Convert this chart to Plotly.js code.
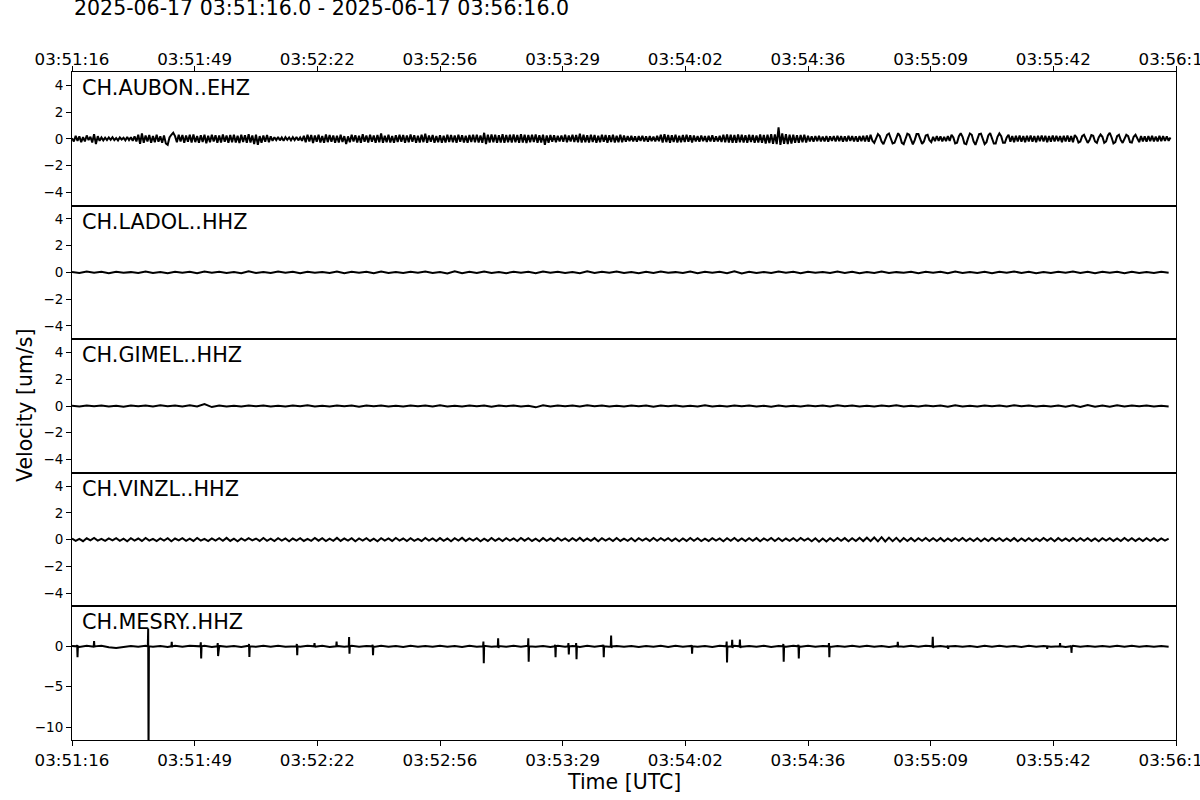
<!DOCTYPE html>
<html><head><meta charset="utf-8">
<script src="https://cdn.plot.ly/plotly-3.0.1.min.js"></script>
<style>html,body{margin:0;padding:0;background:#fff}#plot{width:1200px;height:800px}</style>
</head><body><div id="plot"></div>
<script>
const titleText = "2025-06-17 03:51:16.0 - 2025-06-17 03:56:16.0";
const stations = ["CH.AUBON..EHZ","CH.LADOL..HHZ","CH.GIMEL..HHZ","CH.VINZL..HHZ","CH.MESRY..HHZ"];
const durationSec = 300;
const tickLabels = ["03:51:16","03:51:49","03:52:22","03:52:56","03:53:29","03:54:02","03:54:36","03:55:09","03:55:42","03:56:16"];
const yTicksSmall = [-4,-2,0,2,4];
const yTicksMesry = [-10,-5,0];
const yRanges = [[-5,5],[-5,5],[-5,5],[-5,5],[-11.6,4.95]];

// sample interval (s) of each listed series
const aubonDt = 0.5, ladolDt = 2, gimelDt = 2, vinzlDt = 1, mesryDt = 2;

const aubon = [
0.05,-0.2,0.22,-0.15,0.18,-0.25,0.12,-0.2,0.25,-0.1,0.15,-0.28,0.35,-0.4,0.2,-0.15,0.1,-0.12,0.08,-0.1,
0.1,-0.08,0.12,-0.1,0.06,-0.12,0.1,-0.05,0.08,-0.12,0.14,-0.1,0.12,-0.15,0.18,-0.2,0.3,-0.38,0.4,-0.3,
0.25,-0.2,0.28,-0.3,0.2,-0.25,0.3,-0.22,0.18,-0.3,0.25,-0.35,-0.45,0.1,0.3,0.45,0.2,-0.25,0.3,-0.2,
0.28,-0.3,0.25,-0.22,0.3,-0.28,0.32,-0.25,0.2,-0.3,0.26,-0.24,0.3,-0.33,0.22,-0.26,0.3,-0.2,0.27,-0.3,
0.25,-0.28,0.32,-0.22,0.24,-0.3,0.28,-0.25,0.3,-0.27,0.22,-0.32,0.3,-0.24,0.26,-0.3,0.35,-0.28,0.25,-0.4,
0.3,-0.45,0.2,-0.3,0.25,-0.22,0.28,-0.26,0.18,-0.15,0.12,-0.1,0.14,-0.12,0.1,-0.14,0.12,-0.08,0.1,-0.12,
0.12,-0.1,0.14,-0.12,0.1,-0.15,0.22,-0.25,0.3,-0.2,0.28,-0.32,0.25,-0.22,0.3,-0.28,0.2,-0.3,0.32,-0.25,
0.28,-0.22,0.25,-0.3,0.22,-0.28,0.3,-0.24,0.2,-0.4,0.18,-0.25,0.3,-0.2,0.26,-0.28,0.22,-0.3,0.34,-0.22,
0.25,-0.28,0.3,-0.22,0.24,-0.3,0.28,-0.26,0.4,-0.3,0.22,-0.25,0.3,-0.28,0.2,-0.3,0.26,-0.24,0.3,-0.22,
0.28,-0.3,0.24,-0.26,0.32,-0.22,0.26,-0.3,0.22,-0.28,0.3,-0.25,0.38,-0.3,0.25,-0.22,0.28,-0.3,0.2,-0.26,
0.26,-0.3,0.22,-0.28,0.3,-0.24,0.28,-0.26,0.24,-0.3,0.3,-0.22,0.26,-0.28,0.22,-0.3,0.28,-0.24,0.3,-0.26,
0.3,-0.28,0.25,-0.3,0.45,-0.4,0.3,-0.28,0.32,-0.26,0.3,-0.3,0.26,-0.28,0.34,-0.3,0.28,-0.25,0.3,-0.28,
0.32,-0.26,0.28,-0.3,0.35,-0.28,0.3,-0.32,0.28,-0.26,0.3,-0.24,0.32,-0.3,0.26,-0.28,0.3,-0.45,0.25,-0.3,
0.28,-0.22,0.26,-0.25,0.22,-0.2,0.25,-0.22,0.3,-0.25,0.24,-0.2,0.3,-0.24,0.28,-0.26,0.38,-0.28,0.3,-0.25,
0.26,-0.28,0.3,-0.24,0.28,-0.3,0.22,-0.26,0.3,-0.22,0.28,-0.3,0.26,-0.24,0.3,-0.28,0.22,-0.25,0.3,-0.26,
0.24,-0.22,0.2,-0.18,0.22,-0.2,0.18,-0.22,0.2,-0.16,0.22,-0.2,0.18,-0.22,0.2,-0.18,0.16,-0.2,0.22,-0.18,
0.3,-0.28,0.35,-0.25,0.28,-0.3,0.26,-0.24,0.3,-0.28,0.22,-0.26,0.28,-0.24,0.3,-0.22,0.26,-0.28,0.24,-0.2,
0.2,-0.22,0.24,-0.18,0.2,-0.24,0.22,-0.2,0.26,-0.22,0.18,-0.2,0.22,-0.24,0.3,-0.26,0.32,-0.28,0.3,-0.3,
0.28,-0.3,0.32,-0.26,0.3,-0.28,0.26,-0.3,0.3,-0.24,0.28,-0.3,0.25,-0.28,0.32,-0.3,0.28,-0.35,0.3,-0.32,
0.35,-0.38,0.32,-0.4,0.85,-0.45,0.4,-0.38,0.35,-0.4,0.3,-0.35,0.3,-0.3,0.26,-0.3,0.28,-0.25,0.3,-0.28,
0.22,-0.2,0.18,-0.22,0.2,-0.18,0.22,-0.2,0.16,-0.2,0.2,-0.22,0.18,-0.16,0.2,-0.2,0.22,-0.18,0.2,-0.22,
0.18,-0.2,0.22,-0.16,0.2,-0.2,0.18,-0.22,0.2,-0.18,0.22,-0.2,0.25,-0.22,0.3,-0.15,-0.3,0.1,0.35,0.2,
-0.2,-0.4,-0.1,0.3,0.4,0.05,-0.35,-0.3,0.15,0.42,0.2,-0.3,-0.4,0.0,0.38,0.3,-0.15,-0.42,-0.1,0.35,
0.35,-0.1,-0.38,-0.2,0.25,0.3,-0.1,-0.25,0.15,-0.18,0.2,-0.15,0.18,-0.2,0.15,-0.18,0.2,-0.16,0.3,0.1,
-0.35,-0.3,0.2,0.42,0.15,-0.35,-0.4,0.05,0.4,0.3,-0.2,-0.45,-0.1,0.35,0.38,-0.1,-0.4,-0.25,0.25,0.42,
0.1,-0.35,-0.35,0.15,0.4,0.2,-0.3,-0.3,0.1,0.3,-0.22,0.2,-0.25,0.22,-0.2,0.25,-0.22,0.2,-0.25,0.22,
-0.2,0.25,-0.22,0.2,-0.25,0.22,-0.18,0.25,-0.2,0.22,-0.25,0.2,-0.22,0.25,-0.2,0.22,-0.18,0.2,-0.25,0.22,
-0.2,0.25,-0.22,0.2,-0.25,0.28,0.1,-0.28,-0.2,0.2,0.3,-0.05,-0.3,-0.1,0.28,0.22,-0.2,-0.3,0.1,0.32,
0.15,-0.3,-0.2,0.25,0.45,0.1,-0.35,-0.25,0.2,0.3,-0.1,-0.3,0.0,0.3,0.2,-0.25,-0.28,0.15,0.3,0.0,
-0.25,0.2,-0.2,0.18,-0.22,0.2,-0.18,0.22,-0.2,0.16,-0.2,0.22,-0.18,0.2,-0.16,0.18,-0.15,0.1
];

const ladol = [
0.03,-0.05,0.06,-0.02,0.04,-0.06,0.05,-0.03,0.02,-0.05,0.07,-0.04,0.03,-0.06,0.05,
-0.02,0.04,-0.07,0.06,-0.03,0.05,-0.04,0.02,-0.06,0.08,-0.05,0.03,-0.04,0.06,-0.03,
0.04,-0.06,0.05,-0.02,0.03,-0.05,0.07,-0.06,0.04,-0.03,0.05,-0.07,0.06,-0.04,0.02,
-0.05,0.04,-0.03,0.06,-0.05,0.03,-0.08,0.09,-0.06,0.04,-0.05,0.07,-0.04,0.03,-0.06,
0.05,-0.03,0.04,-0.07,0.06,-0.02,0.05,-0.04,0.03,-0.06,0.08,-0.05,0.04,-0.03,0.06,
-0.05,0.03,-0.06,0.05,-0.04,0.07,-0.03,0.02,-0.05,0.06,-0.07,0.05,-0.03,0.04,-0.06,
0.09,-0.08,0.05,-0.04,0.03,-0.05,0.06,-0.03,0.04,-0.06,0.05,-0.02,0.03,-0.05,0.07,
-0.04,0.05,-0.06,0.03,-0.04,0.06,-0.05,0.02,-0.03,0.05,-0.06,0.04,-0.03,0.05,-0.07,
0.06,-0.04,0.03,-0.05,0.04,-0.06,0.05,-0.03,0.07,-0.05,0.04,-0.06,0.03,-0.04,0.05,
-0.03,0.06,-0.05,0.04,-0.07,0.05,-0.03,0.04,-0.06,0.05,-0.04,0.03,-0.05,0.04,-0.03
];

const gimel = [
0.02,-0.04,0.03,-0.02,0.04,-0.03,0.02,-0.05,0.03,-0.02,0.04,-0.03,0.05,-0.02,0.03,
-0.04,0.05,-0.03,0.15,-0.08,0.04,-0.03,0.02,-0.04,0.03,-0.02,0.04,-0.03,0.02,-0.04,
0.03,-0.02,0.05,-0.04,0.02,-0.03,0.04,-0.02,0.03,-0.05,0.04,-0.02,0.03,-0.04,0.02,
-0.03,0.04,-0.02,0.03,-0.04,0.05,-0.03,0.02,-0.04,0.03,-0.02,0.04,-0.05,0.03,-0.02,
0.04,-0.03,0.02,-0.1,0.05,-0.04,0.03,-0.02,0.04,-0.03,0.05,-0.02,0.03,-0.04,0.02,
-0.03,0.04,-0.02,0.03,-0.05,0.04,-0.02,0.03,-0.04,0.02,-0.03,0.05,-0.04,0.02,-0.03,
0.04,-0.02,0.03,-0.04,0.02,-0.05,0.04,-0.03,0.02,-0.04,0.03,-0.02,0.04,-0.03,0.05,
-0.02,0.03,-0.04,0.02,-0.03,0.04,-0.02,0.05,-0.03,0.02,-0.04,0.03,-0.02,0.04,-0.06,
0.05,-0.03,0.02,-0.04,0.03,-0.02,0.04,-0.03,0.05,-0.02,0.03,-0.04,0.02,-0.03,0.04,
-0.05,0.06,-0.08,0.07,-0.05,0.04,-0.06,0.05,-0.03,0.04,-0.02,0.03,-0.04,0.02,-0.03
];

const vinzl = [
0.08,-0.1,0.06,-0.12,0.1,-0.05,0.12,-0.08,0.05,-0.1,0.09,-0.06,0.11,-0.09,0.07,-0.12,0.1,-0.07,0.08,-0.1,
0.12,-0.08,0.06,-0.11,0.09,-0.07,0.1,-0.12,0.08,-0.06,0.11,-0.09,0.07,-0.1,0.12,-0.08,0.06,-0.11,0.09,-0.07,
0.1,-0.09,0.13,-0.1,0.07,-0.12,0.09,-0.08,0.11,-0.06,0.08,-0.1,0.12,-0.09,0.07,-0.11,0.1,-0.08,0.09,-0.12,
0.08,-0.07,0.11,-0.1,0.06,-0.09,0.12,-0.08,0.1,-0.11,0.07,-0.09,0.13,-0.1,0.08,-0.07,0.11,-0.12,0.09,-0.08,
0.1,-0.1,0.07,-0.12,0.11,-0.08,0.09,-0.1,0.12,-0.07,0.08,-0.11,0.1,-0.09,0.06,-0.1,0.12,-0.08,0.09,-0.11,
0.11,-0.09,0.08,-0.12,0.1,-0.07,0.13,-0.1,0.09,-0.08,0.11,-0.12,0.07,-0.1,0.12,-0.09,0.08,-0.11,0.1,-0.08,
0.09,-0.11,0.12,-0.08,0.1,-0.1,0.07,-0.12,0.11,-0.09,0.08,-0.1,0.12,-0.07,0.09,-0.11,0.1,-0.08,0.13,-0.1,
0.08,-0.09,0.11,-0.12,0.1,-0.08,0.09,-0.11,0.12,-0.1,0.07,-0.09,0.1,-0.12,0.11,-0.08,0.09,-0.1,0.12,-0.09,
0.1,-0.08,0.11,-0.1,0.09,-0.12,0.08,-0.1,0.12,-0.09,0.1,-0.11,0.07,-0.1,0.11,-0.08,0.09,-0.12,0.1,-0.09,
0.12,-0.1,0.08,-0.11,0.1,-0.09,0.11,-0.12,0.09,-0.08,0.12,-0.1,0.1,-0.11,0.08,-0.09,0.11,-0.1,0.12,-0.08,
0.09,-0.12,0.1,-0.16,0.08,-0.14,0.1,-0.1,0.12,-0.09,0.11,-0.12,0.1,-0.1,0.13,-0.11,0.14,-0.12,0.16,-0.13,
0.18,-0.14,0.15,-0.12,0.13,-0.15,0.12,-0.1,0.11,-0.12,0.1,-0.09,0.12,-0.11,0.1,-0.1,0.11,-0.12,0.09,-0.1,
0.11,-0.09,0.12,-0.1,0.08,-0.11,0.1,-0.12,0.09,-0.1,0.12,-0.08,0.1,-0.11,0.09,-0.1,0.11,-0.12,0.08,-0.1,
0.1,-0.11,0.09,-0.1,0.12,-0.08,0.1,-0.12,0.11,-0.09,0.08,-0.1,0.12,-0.11,0.1,-0.09,0.11,-0.1,0.09,-0.12,
0.1,-0.08,0.11,-0.1,0.09,-0.11,0.12,-0.09,0.1,-0.1,0.08,-0.11,0.1,-0.09,0.11,-0.1,0.09,-0.08,0.07
];

const mesryBase = [
0.05,-0.08,0.06,-0.04,0.07,-0.12,-0.2,-0.08,0.05,-0.05,0.08,-0.06,0.04,-0.07,0.06,
-0.05,0.07,-0.04,0.06,-0.08,0.05,-0.06,0.04,-0.07,0.08,-0.05,0.06,-0.04,0.07,-0.06,
0.04,-0.06,0.08,-0.05,0.06,-0.07,0.05,-0.04,0.07,-0.06,0.05,-0.08,0.06,-0.04,0.05,
-0.07,0.06,-0.05,0.04,-0.06,0.07,-0.04,0.05,-0.08,0.06,-0.05,0.07,-0.06,0.04,-0.05,
0.06,-0.04,0.07,-0.06,0.05,-0.08,0.06,-0.05,0.04,-0.07,0.06,-0.05,0.08,-0.06,0.04,
-0.06,0.05,-0.07,0.04,-0.05,0.06,-0.08,0.07,-0.04,0.05,-0.06,0.04,-0.07,0.06,-0.05,
0.07,-0.05,0.04,-0.06,0.08,-0.07,0.05,-0.04,0.06,-0.05,0.07,-0.06,0.04,-0.08,0.05,
-0.04,0.06,-0.05,0.07,-0.06,0.04,-0.07,0.05,-0.06,0.08,-0.04,0.06,-0.05,0.04,-0.07,
0.05,-0.06,0.04,-0.08,0.07,-0.05,0.06,-0.04,0.05,-0.07,0.06,-0.05,0.04,-0.06,0.05,
-0.07,0.06,-0.05,0.04,-0.06,0.05,-0.04,0.07,-0.05,0.06,-0.04,0.05,-0.06,0.04,-0.05
];
// MESRY impulsive spikes: time (s from start), max, min
const spikeT   = [1.4,6.0,20.7,27.1,35.0,39.6,48.1,61.1,65.9,71.9,75.3,81.7,111.8,115.8,124.0,131.3,134.9,137.0,144.4,146.5,168.4,177.9,179.4,181.5,193.3,197.4,205.7,224.4,233.9,238.0,264.9,268.5,271.5];
const spikeMax = [0.15,0.65,2.2,0.55,0.5,0.4,0.3,0.3,0.4,0.6,1.15,0.2,0.6,1.0,1.0,0.2,0.4,0.4,0.2,1.35,0.15,0.6,0.8,0.85,0.3,0.2,0.4,0.55,1.2,0.1,0.1,0.4,0.1];
const spikeMin = [-1.35,-0.1,-14,-0.1,-1.5,-1.2,-1.3,-1.1,-0.1,-0.1,-0.9,-1.1,-2.1,-0.2,-1.9,-1.35,-1.0,-1.6,-1.35,-0.2,-0.9,-2.0,-0.2,-0.2,-1.9,-1.5,-1.35,-0.1,-0.2,-0.3,-0.3,-0.1,-0.8];

function seriesXY(vals, dt){ return {x: vals.map((v,i)=>i*dt), y: vals}; }
function mesryXY(){
  const x=[], y=[]; let s=0;
  for(let i=0;i<mesryBase.length;i++){
    const t=i*mesryDt;
    while(s<spikeT.length && spikeT[s] < t){
      const ts=spikeT[s];
      x.push(ts-0.1,ts,ts+0.1,ts+0.2); y.push(0,spikeMax[s],spikeMin[s],0); s++;
    }
    x.push(t); y.push(mesryBase[i]);
  }
  return {x,y};
}
const xy = [seriesXY(aubon,aubonDt), seriesXY(ladol,ladolDt), seriesXY(gimel,gimelDt), seriesXY(vinzl,vinzlDt), mesryXY()];

const tickVals = tickLabels.map((_,i)=>i*durationSec/(tickLabels.length-1));
const font = "DejaVu Sans, sans-serif";
const n = 5;
const data = [], layout = {
  width:1200, height:800, margin:{l:72,r:24,t:72,b:60},
  paper_bgcolor:"#fff", plot_bgcolor:"#fff", showlegend:false,
  font:{family:font,color:"#000"}, annotations:[]
};
for(let k=0;k<n;k++){
  const sfx = k===0 ? "" : String(k+1);
  data.push({type:"scatter", mode:"lines", x:xy[k].x, y:xy[k].y, xaxis:"x"+sfx, yaxis:"y"+sfx,
    line:{color:"#000",width:2}, hoverinfo:"skip", cliponaxis:true});
  const isTop = k===0, isBot = k===n-1;
  const xa = {domain:[0,1], anchor:"y"+sfx, range:[0,durationSec], showgrid:false, zeroline:false,
    showline:true, mirror:true, linecolor:"#000", linewidth:1,
    tickmode:"array", tickvals:tickVals, ticktext:tickLabels,
    ticks:(isTop||isBot)?"outside":"", ticklen:5, tickcolor:"#000",
    showticklabels:(isTop||isBot), side:isTop?"top":"bottom", tickfont:{size:16.7,color:"#000"},
    ticklabeloverflow:"allow"};
  if(isTop) xa.ticklabelstandoff = -6;
  if(k>0) xa.matches = "x";
  layout["xaxis"+sfx] = xa;
  layout["yaxis"+sfx] = {domain:[1-(k+1)/n, 1-k/n], anchor:"x"+sfx, range:yRanges[k],
    showgrid:false, zeroline:false, showline:true, mirror:true, linecolor:"#000", linewidth:1,
    tickmode:"array", tickvals: isBot?yTicksMesry:yTicksSmall, ticks:"outside", ticklen:5, tickcolor:"#000",
    tickfont:{size:13.5,color:"#000"}};
  layout.annotations.push({xref:"x"+sfx+" domain", yref:"y"+sfx+" domain", x:0.0075, y:0.88,
    xanchor:"left", yanchor:"middle", showarrow:false, text:stations[k], font:{size:20.8,color:"#000"}});
}
layout.annotations.push({xref:"paper",yref:"paper",x:0,y:1+(72-8.5)/668,xanchor:"left",yanchor:"middle",
  showarrow:false,text:titleText,font:{size:20.5,color:"#000"}});
layout.annotations.push({xref:"paper",yref:"paper",x:-47/1104,y:0.5,xanchor:"center",yanchor:"middle",
  textangle:-90,showarrow:false,text:"Velocity [um/s]",font:{size:20.5,color:"#000"}});
layout.annotations.push({xref:"paper",yref:"paper",x:0.5,y:-42/668,xanchor:"center",yanchor:"middle",
  showarrow:false,text:"Time [UTC]",font:{size:20.5,color:"#000"}});
Plotly.newPlot("plot", data, layout, {staticPlot:true, displayModeBar:false});
</script></body></html>
